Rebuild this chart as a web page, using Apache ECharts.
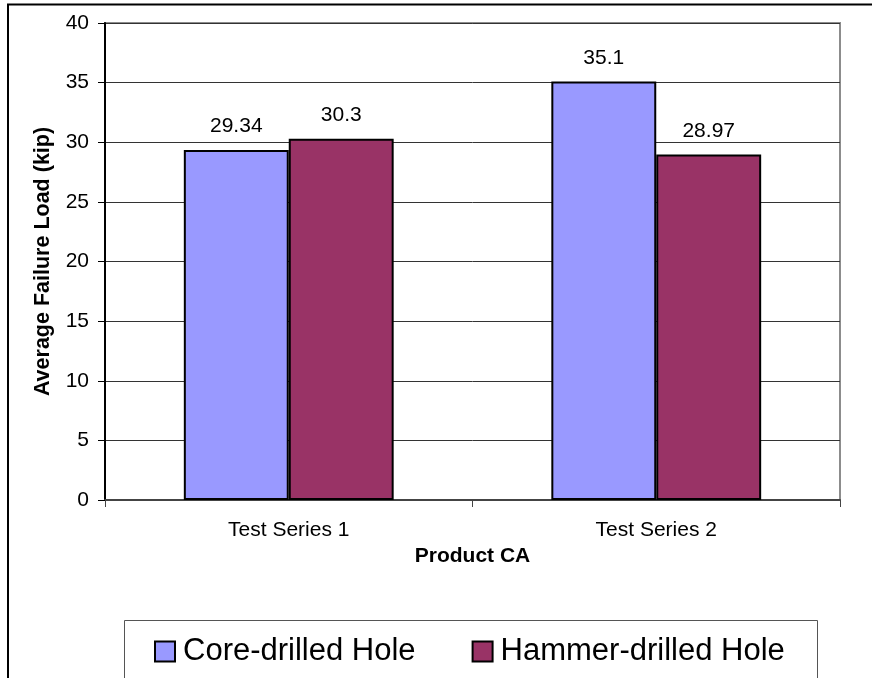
<!DOCTYPE html>
<html>
<head>
<meta charset="utf-8">
<script src="https://cdn.jsdelivr.net/npm/echarts@6/dist/echarts.min.js"></script>
<style>
  html, body { margin: 0; padding: 0; background: #fff; }
  #chart { width: 872px; height: 678px; }
</style>
</head>
<body>
<div id="chart"></div>
<script>
// Average failure load by test series, Product CA
const categories = ['Test Series 1', 'Test Series 2'];
const seriesNames = ['Core-drilled Hole', 'Hammer-drilled Hole'];
const coreDrilled = [29.34, 35.1];
const hammerDrilled = [30.3, 28.97];
const yTicks = { min: 0, max: 40, interval: 5 };

const FONT = '"Liberation Sans", Arial, sans-serif';
const chart = echarts.init(document.getElementById('chart'), null, { renderer: 'canvas' });

const barLabel = {
  show: true,
  position: 'top',
  distance: 13,
  color: '#000',
  fontFamily: FONT,
  fontSize: 21
};

chart.setOption({
  animation: false,
  backgroundColor: '#fff',
  textStyle: { fontFamily: FONT },
  grid: {
    left: 105, top: 23, width: 735, height: 477,
    show: true, borderColor: '#8c8c8c', borderWidth: 2, backgroundColor: 'transparent'
  },
  graphic: [
    {
      type: 'rect', z: -1, silent: true,
      shape: { x: 8, y: 4.5, width: 880, height: 720 },
      style: { fill: 'transparent', stroke: '#000', lineWidth: 2 }
    },
    {
      type: 'rect', z: -1, silent: true,
      shape: { x: 124.5, y: 620.5, width: 693, height: 100 },
      style: { fill: '#fff', stroke: '#555', lineWidth: 1 }
    }
  ],
  legend: {
    left: 149, top: 631,
    itemWidth: 20, itemHeight: 20, itemGap: 56,
    icon: 'rect',
    textStyle: { fontFamily: FONT, fontSize: 31, color: '#000', padding: [0, 0, 0, 3] },
    data: seriesNames
  },
  xAxis: {
    type: 'category',
    data: categories,
    name: 'Product CA',
    nameLocation: 'middle',
    nameGap: 44,
    nameTextStyle: { fontFamily: FONT, fontSize: 21, fontWeight: 'bold', color: '#000' },
    axisLine: { lineStyle: { color: '#444', width: 2 } },
    axisTick: { show: true, length: 7, inside: false, lineStyle: { color: '#444', width: 1 } },
    axisLabel: { margin: 20, fontFamily: FONT, fontSize: 21, color: '#000' },
    splitLine: { show: false }
  },
  yAxis: {
    type: 'value',
    min: yTicks.min, max: yTicks.max, interval: yTicks.interval,
    name: 'Average Failure Load (kip)',
    nameLocation: 'middle',
    nameGap: 51,
    nameRotate: 90,
    nameTextStyle: { fontFamily: FONT, fontSize: 21.5, fontWeight: 'bold', color: '#000' },
    axisLine: { show: true, lineStyle: { color: '#000', width: 2 } },
    axisTick: { show: true, length: 7, inside: false, lineStyle: { color: '#000', width: 1 } },
    axisLabel: { margin: 16, fontFamily: FONT, fontSize: 21, color: '#000' },
    splitLine: { show: true, lineStyle: { color: '#333', width: 1 } }
  },
  series: [
    {
      name: seriesNames[0], type: 'bar', data: coreDrilled,
      barGap: '0%', barCategoryGap: '42.9%',
      itemStyle: { color: '#9999FF', borderColor: '#000', borderWidth: 2 },
      label: barLabel
    },
    {
      name: seriesNames[1], type: 'bar', data: hammerDrilled,
      barGap: '0%', barCategoryGap: '42.9%',
      itemStyle: { color: '#993366', borderColor: '#000', borderWidth: 2 },
      label: barLabel
    }
  ]
});
</script>
</body>
</html>
